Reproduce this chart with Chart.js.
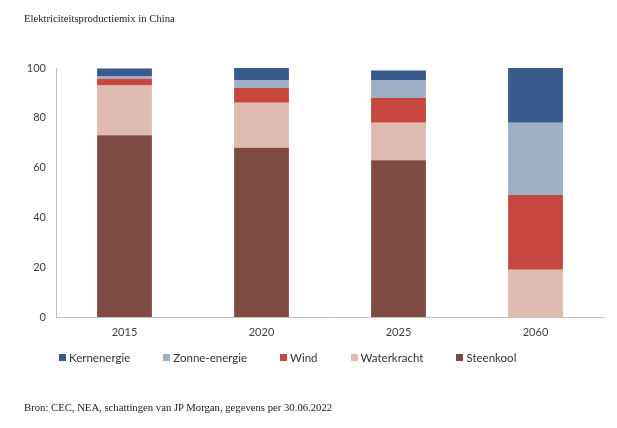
<!DOCTYPE html>
<html>
<head>
<meta charset="utf-8">
<script src="https://cdn.jsdelivr.net/npm/chart.js@4/dist/chart.umd.min.js"></script>
<style>
  html, body { margin:0; padding:0; background:#fff; }
  #wrap { position:relative; width:617px; height:428px; overflow:hidden; }
  #c { position:absolute; left:0; top:0; }
  .serif { position:absolute; font-family:"Liberation Serif","Times New Roman",serif; font-size:10.7px; color:#222; white-space:nowrap; }
  #title { left:24px; top:12px; }
  #source { left:24px; top:401px; }
  #legend { position:absolute; left:59px; top:349px; font-family:Lato,"Open Sans",sans-serif; font-size:11.5px; color:#333; white-space:nowrap; display:flex; }
  .li { display:flex; align-items:center; margin-right:33px; height:16px; }
  .sw { width:7px; height:7px; margin-right:3px; }
</style>
</head>
<body>
<div id="wrap">
  <canvas id="c" width="617" height="428"></canvas>
  <div id="title" class="serif">Elektriciteitsproductiemix in China</div>
  <div id="legend"></div>
  <div id="source" class="serif">Bron: CEC, NEA, schattingen van JP Morgan, gegevens per 30.06.2022</div>
</div>
<script>
const categories = ["2015", "2020", "2025", "2060"];
const steenkool   = [73, 68, 63, 0];
const waterkracht = [20, 18, 15, 19];
const wind        = [2.7, 6, 10, 30];
const zonne       = [0.9, 3, 7, 29];
const kern        = [3.2, 5, 4, 22];
const yTicks = [0, 20, 40, 60, 80, 100];

const seriesNames  = ["Steenkool", "Waterkracht", "Wind", "Zonne-energie", "Kernenergie"];
const seriesData   = [steenkool, waterkracht, wind, zonne, kern];
const seriesColors = ["#7f4a41", "#e0bbb2", "#c5473e", "#9dafc5", "#395a8d"];

const datasets = seriesNames.map((n, i) => ({
  label: n, data: seriesData[i], backgroundColor: seriesColors[i],
  borderWidth: 0, barPercentage: 0.4, categoryPercentage: 1.0
}));

// HTML legend (reverse order like reference)
const leg = document.getElementById('legend');
for (let i = seriesNames.length - 1; i >= 0; i--) {
  const it = document.createElement('div'); it.className = 'li';
  const sw = document.createElement('span'); sw.className = 'sw'; sw.style.background = seriesColors[i];
  const tx = document.createElement('span'); tx.textContent = seriesNames[i];
  it.appendChild(sw); it.appendChild(tx); leg.appendChild(it);
}

new Chart(document.getElementById('c'), {
  type: 'bar',
  data: { labels: categories, datasets },
  options: {
    responsive: false, animation: false,
    layout: { padding: { top: 68, right: 13, left: 0, bottom: 0 } },
    plugins: { legend: { display: false }, tooltip: { enabled: false } },
    scales: {
      x: {
        stacked: true,
        grid: { display: false, drawTicks: false },
        border: { display: true, color: '#c0c0c0', width: 1 },
        ticks: { color: '#404040', font: { family: 'Lato', size: 11 }, padding: 9 },
        afterFit: s => { s.height = 111; }
      },
      y: {
        stacked: true, min: 0, max: 100,
        afterBuildTicks: s => { s.ticks = yTicks.map(v => ({ value: v })); },
        grid: { display: false, drawTicks: false },
        border: { display: true, color: '#c0c0c0', width: 1 },
        ticks: { color: '#404040', font: { family: 'Lato', size: 11 }, padding: 10 },
        afterFit: s => { s.width = 56; }
      }
    }
  }
});
</script>
</body>
</html>
